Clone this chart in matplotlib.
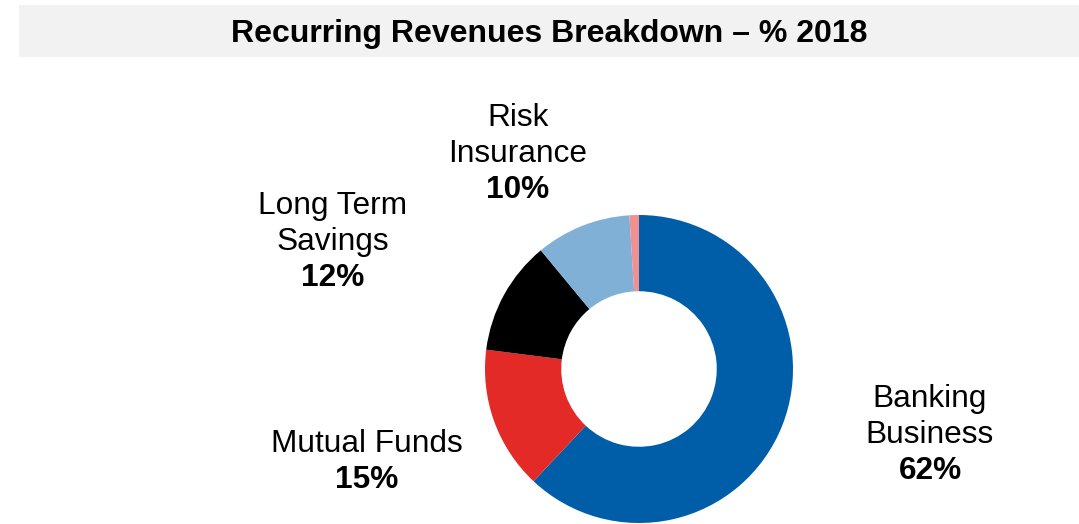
import matplotlib.pyplot as plt
from matplotlib.patches import Rectangle

plt.rcParams['font.family'] = ['Liberation Sans', 'DejaVu Sans']

# data
categories = ['Banking\nBusiness', 'Mutual Funds', 'Long Term\nSavings', 'Risk\nInsurance', 'Other']
shares = [62, 15, 12, 10, 1]
pct_labels = ['62%', '15%', '12%', '10%', '']
colors = ['#005EA8', '#E32A27', '#000000', '#80B0D6', '#F09090']

W, H = 1079, 524
fig = plt.figure(figsize=(W / 100, H / 100), dpi=100)

# title bar
fig.patches.append(Rectangle((19 / W, 1 - 57 / H), 1 - 19 / W, 52 / H,
                             transform=fig.transFigure, facecolor='#F2F2F2',
                             edgecolor='none', zorder=0))
fig.text(549 / W, 1 - 42 / H, 'Recurring Revenues Breakdown \u2013 % 2018',
         ha='center', va='baseline', fontsize=23, fontweight='bold')

# donut
cx, cy, r = 639, 369, 154
ax = fig.add_axes([(cx - r) / W, (H - cy - r) / H, 2 * r / W, 2 * r / H])
ax.pie(shares, colors=colors, startangle=90, counterclock=False,
       radius=1, wedgeprops=dict(width=0.495, edgecolor='none'))
ax.set_xlim(-1, 1)
ax.set_ylim(-1, 1)
ax.set_aspect('equal')
ax.axis('off')

# label positions (px): centre x, baselines of lines
label_pos = [(930, [407, 443, 479]),
             (367, [452, 488]),
             (333, [214, 250, 286]),
             (518, [126, 162, 198])]

fs = 22.8
for i, (x, ys) in enumerate(label_pos):
    lines = categories[i].split('\n')
    for line, y in zip(lines, ys):
        fig.text(x / W, 1 - y / H, line, ha='center', va='baseline', fontsize=fs)
    fig.text(x / W, 1 - ys[-1] / H, pct_labels[i], ha='center', va='baseline',
             fontsize=fs, fontweight='bold')

fig.savefig('out.png', dpi=100)
